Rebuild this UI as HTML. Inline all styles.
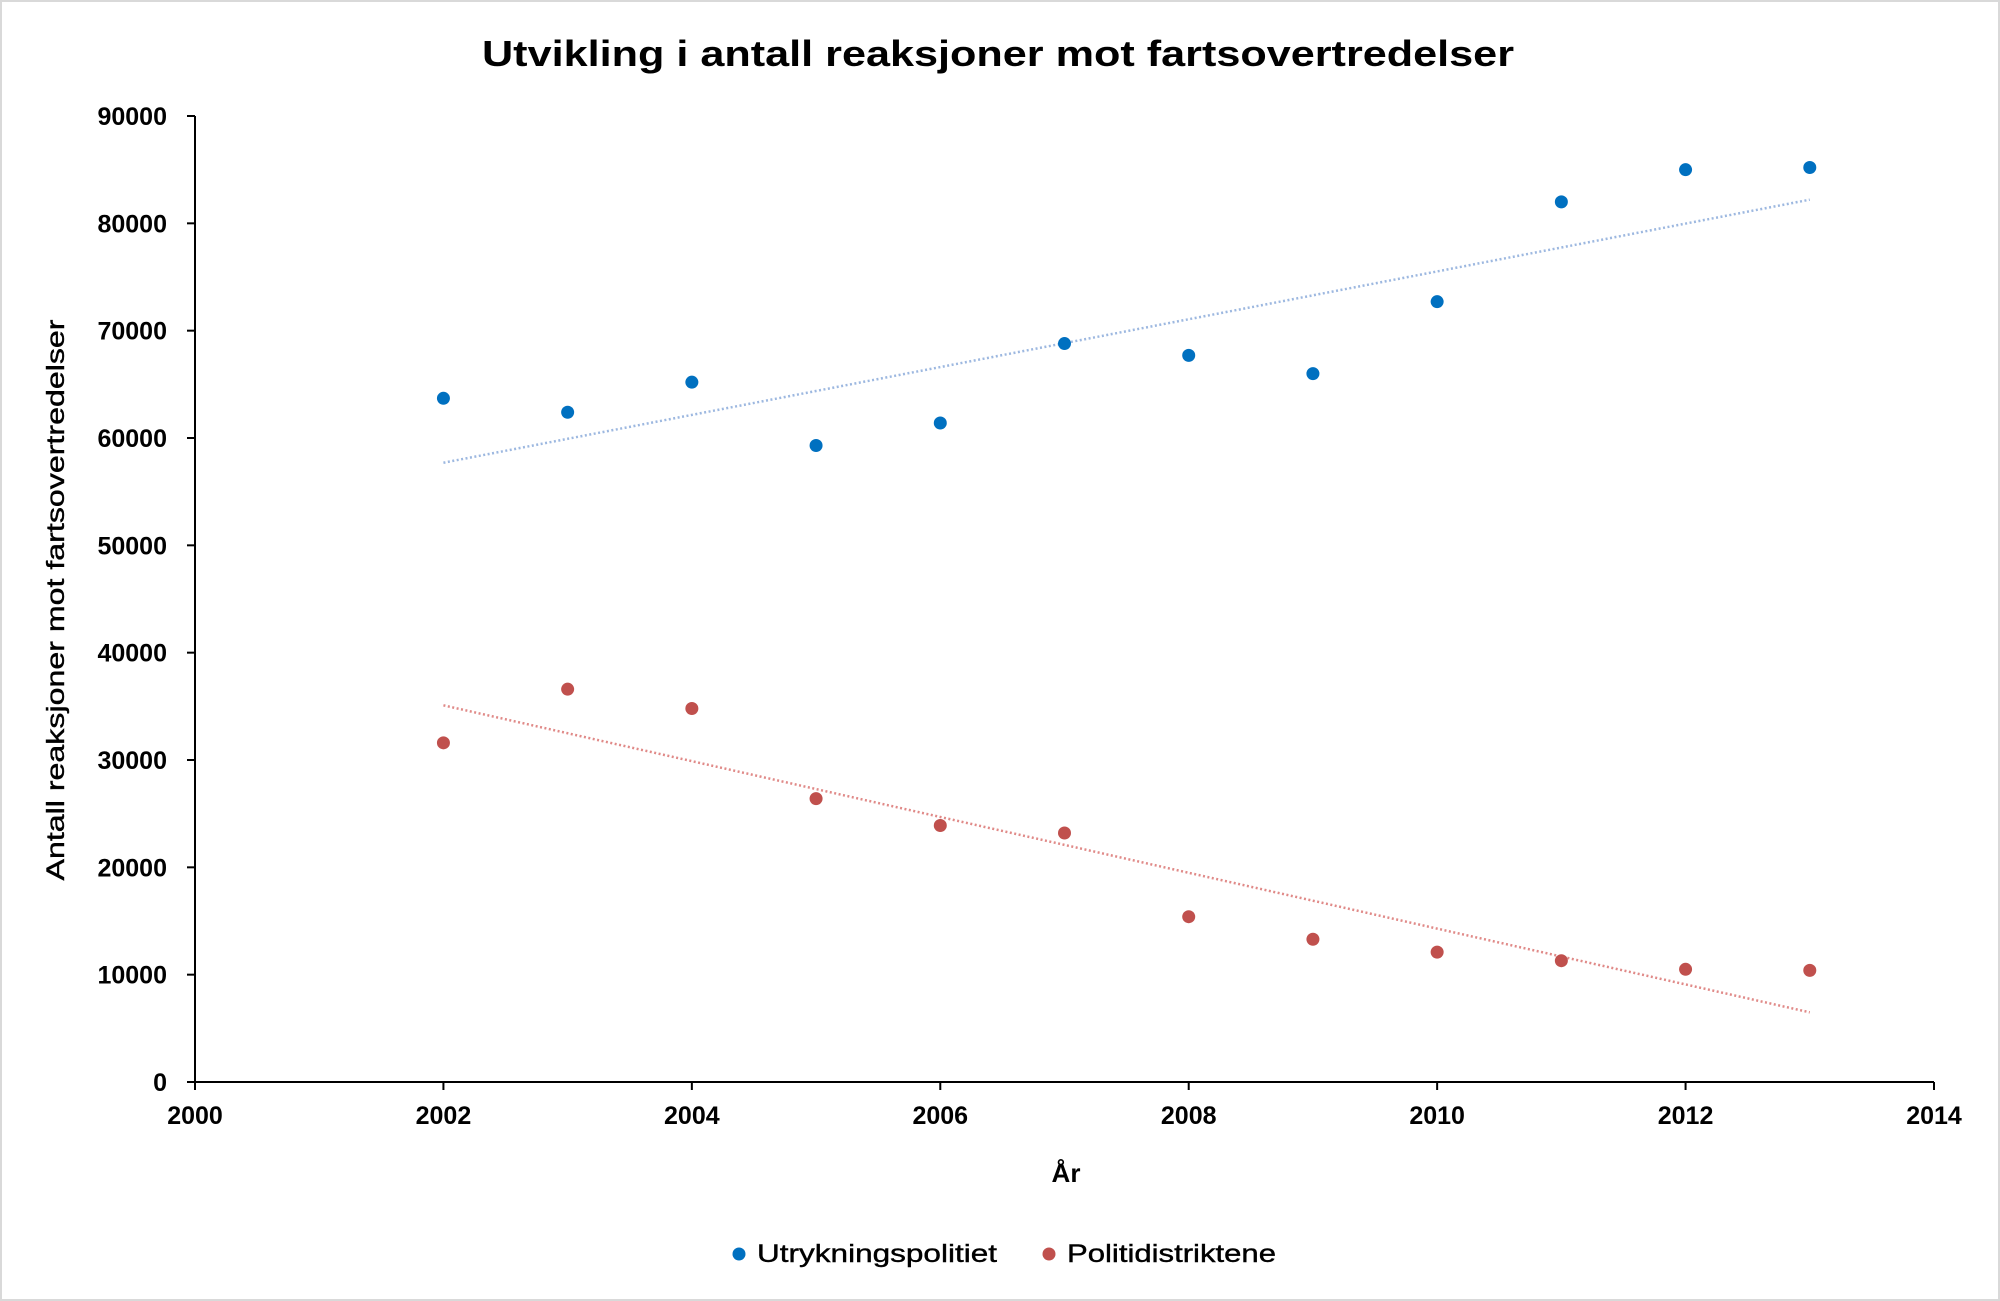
<!DOCTYPE html>
<html><head><meta charset="utf-8"><style>
html,body{margin:0;padding:0;background:#fff}
svg{display:block}
text{font-family:"Liberation Sans",sans-serif;fill:#000}
</style></head><body>
<svg id="chart" width="2000" height="1301" viewBox="0 0 2000 1301" xmlns="http://www.w3.org/2000/svg">
<rect x="1" y="1" width="1998" height="1299" fill="#fff" stroke="#d9d9d9" stroke-width="2"/>
<text x="998" y="66" text-anchor="middle" font-size="36" font-weight="bold" textLength="1032" lengthAdjust="spacingAndGlyphs">Utvikling i antall reaksjoner mot fartsovertredelser</text>
<g id="axes"></g>
<g id="trends"></g>
<g id="points"></g>
<text x="1066" y="1182" text-anchor="middle" font-size="26" font-weight="bold">År</text>
<text transform="translate(64,600) rotate(-90)" text-anchor="middle" font-size="25" stroke="#000" stroke-width="0.4" textLength="561" lengthAdjust="spacingAndGlyphs">Antall reaksjoner mot fartsovertredelser</text>
<g>
<circle cx="739" cy="1254" r="6.5" fill="#0070c0"/>
<text x="757" y="1262" font-size="25" stroke="#000" stroke-width="0.4" textLength="240" lengthAdjust="spacingAndGlyphs">Utrykningspolitiet</text>
<circle cx="1049" cy="1254" r="6.5" fill="#c0504d"/>
<text x="1067" y="1262" font-size="25" stroke="#000" stroke-width="0.4" textLength="209" lengthAdjust="spacingAndGlyphs">Politidistriktene</text>
</g>
</svg>
<script>
const years = [2002,2003,2004,2005,2006,2007,2008,2009,2010,2011,2012,2013];
const utrykning = [63700,62400,65200,59300,61400,68800,67700,66000,72700,82000,85000,85200];
const politi = [31600,36600,34800,26400,23900,23200,15400,13300,12100,11300,10500,10400];
const xTicks = [2000,2002,2004,2006,2008,2010,2012,2014];
const yTicks = [0,10000,20000,30000,40000,50000,60000,70000,80000,90000];

const NS="http://www.w3.org/2000/svg";
const X0=195,X1=1934,Y0=1082,Y1=116;
const xs=v=>X0+(v-2000)/(2014-2000)*(X1-X0);
const ys=v=>Y0-(v/90000)*(Y0-Y1);
function mk(tag,attrs,parent){const e=document.createElementNS(NS,tag);for(const k in attrs)e.setAttribute(k,attrs[k]);parent.appendChild(e);return e;}
const axes=document.getElementById('axes');
let l=mk('line',{x1:X0,y1:Y1,x2:X0,y2:Y0,stroke:'#000','stroke-width':2},axes);


l=mk('line',{x1:X0,y1:Y0,x2:X1,y2:Y0,stroke:'#000','stroke-width':2},axes);


yTicks.forEach(v=>{
  const t=mk('line',{x1:X0-8,y1:ys(v),x2:X0,y2:ys(v),stroke:'#000','stroke-width':2},axes);
  
  
  const tx=mk('text',{x:X0-28,y:ys(v)+9,'text-anchor':'end','font-size':25,'font-weight':'bold'},axes);
  tx.textContent=v;
  
  
});
xTicks.forEach(v=>{
  const t=mk('line',{x1:xs(v),y1:Y0,x2:xs(v),y2:Y0+8,stroke:'#000','stroke-width':2},axes);
  
  
  const tx=mk('text',{x:xs(v),y:Y0+42,'text-anchor':'middle','font-size':25,'font-weight':'bold'},axes);
  tx.textContent=v;
  
  
});
function fit(xv,yv){const n=xv.length;let mx=0,my=0;for(let i=0;i<n;i++){mx+=xv[i];my+=yv[i];}mx/=n;my/=n;let sxy=0,sxx=0;for(let i=0;i<n;i++){sxy+=(xv[i]-mx)*(yv[i]-my);sxx+=(xv[i]-mx)**2;}const b=sxy/sxx;return x=>my+b*(x-mx);}
const series=[{d:utrykning,c:'#0070c0',tc:'#9db8e0',n:'utrykningspolitiet'},{d:politi,c:'#c0504d',tc:'#e08a88',n:'politidistriktene'}];
const tg=document.getElementById('trends'),pg=document.getElementById('points');
series.forEach(s=>{
  const f=fit(years,s.d);
  const a=years[0],b=years[years.length-1];
  const tl=mk('line',{x1:xs(a),y1:ys(f(a)),x2:xs(b),y2:ys(f(b)),stroke:s.tc,'stroke-width':2.5,'stroke-dasharray':'2 2.5'},tg);
  
  
  years.forEach((y,i)=>{
    const c=mk('circle',{cx:xs(y),cy:ys(s.d[i]),r:6.5,fill:s.c},pg);
    
    
  });
});
</script>
</body></html>
